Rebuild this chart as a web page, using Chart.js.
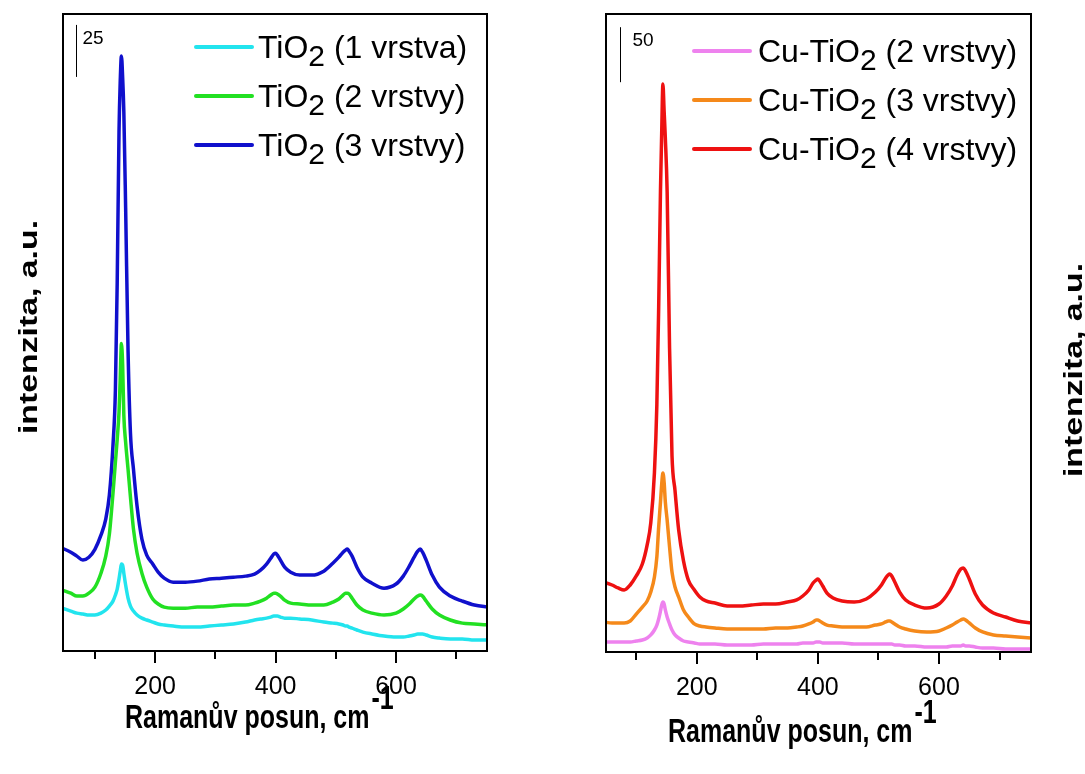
<!DOCTYPE html>
<html><head><meta charset="utf-8">
<script src="https://cdn.jsdelivr.net/npm/chart.js@4.4.0/dist/chart.umd.min.js"></script>
<style>
html,body{margin:0;padding:0;background:#fff;}
#wrap{position:relative;width:1085px;height:774px;overflow:hidden;background:#fff;}
canvas{position:absolute;left:0;top:0;}
</style></head><body>
<div id="wrap"><canvas id="c1" width="1085" height="774"></canvas><canvas id="c2" width="1085" height="774"></canvas></div>
<script>
// Raman shift grid (cm^-1)
const wavenumbers = [46,60,70,80,90,100,110,118,124,130,134,137,140,142,144,146,148,151,155,159,164,170,178,186,196,205,215,230,250,270,290,310,330,350,365,375,385,392,397,400,403,408,415,425,440,460,480,495,505,512,516,519,522,527,535,545,560,580,600,612,622,630,636,640,644,650,660,672,690,710,730,754];

// Left panel (a.u.)
const tio2_1 = [20.6,19.2,18.2,17.8,17.3,17.3,18.2,19.7,21.6,24.0,26.9,29.8,34.6,38.4,41.8,41.3,37.4,31.7,25.4,21.6,19.2,17.3,15.8,14.9,13.9,13.0,12.5,12.0,11.5,11.5,12.0,12.5,13.0,13.9,14.9,15.4,15.8,16.3,16.8,16.8,16.8,16.3,15.8,15.8,15.4,14.9,13.9,13.4,13.0,12.5,12.0,12.0,11.5,11.0,10.1,9.1,8.2,7.2,6.7,6.7,7.2,7.7,8.2,8.2,8.2,7.7,6.7,6.2,5.8,5.8,5.3,5.3];
const tio2_2 = [29.3,27.8,26.4,26.4,27.8,30.7,37.4,45.6,56.2,75.9,90.8,101.8,114.8,130.6,147.8,137.8,113.4,100.4,87.4,74.0,58.6,47.0,37.4,30.7,25.0,22.6,21.1,20.6,20.6,21.1,21.1,21.6,22.1,22.1,23.0,24.0,25.4,26.9,27.8,27.8,27.4,26.4,24.5,23.0,22.6,22.1,22.1,23.5,25.0,26.9,27.8,27.8,27.4,25.4,22.1,19.7,18.2,17.3,18.2,20.2,22.6,25.0,26.4,26.9,26.4,24.0,20.2,17.3,14.9,13.4,13.0,12.5];
const tio2_3 = [49.4,47.5,45.6,43.7,45.1,48.9,55.7,63.4,75.0,99.0,125.4,177.2,249.6,273.6,286.1,276.0,259.2,213.2,144.6,104.8,87.4,69.6,53.8,46.1,41.8,37.9,35.0,33.1,33.1,33.6,34.6,35.0,35.5,36.0,37.0,38.9,41.8,44.6,46.6,47.0,46.1,43.7,40.3,37.9,36.5,36.5,38.4,42.2,45.1,47.5,48.5,49.0,48.0,45.6,40.3,35.5,32.6,30.2,32.2,36.0,40.8,45.1,48.0,49.0,47.5,43.7,36.5,30.7,26.4,24.0,22.1,21.1];

// Right panel (a.u.)
const cu_2 = [9.1,9.1,9.1,9.1,9.1,10.0,10.9,12.7,15.5,20.0,24.5,30.0,37.3,42.7,45.5,43.6,38.2,31.8,25.5,20.0,15.5,12.7,10.0,9.1,8.2,7.3,7.3,7.3,6.4,6.4,6.4,7.3,7.3,7.3,7.3,8.2,8.2,8.2,9.1,9.1,9.1,8.2,8.2,8.2,8.2,7.3,7.3,7.3,7.3,7.3,7.3,7.3,7.3,6.4,6.4,5.5,5.5,4.5,4.5,4.5,5.5,5.5,5.5,6.4,5.5,5.5,4.5,3.6,3.6,2.7,2.7,2.7];
const cu_3 = [27.3,26.4,26.4,26.4,28.2,34.5,40.9,46.4,54.5,68.2,86.4,113.6,136.4,152.7,162.7,154.5,136.4,120.0,95.4,72.7,59.1,50.0,38.2,31.8,25.5,23.6,22.7,21.8,20.9,20.9,20.9,20.9,21.8,21.8,22.7,23.6,25.5,27.3,29.1,29.1,28.2,26.4,24.5,23.6,22.7,22.7,22.7,24.5,25.5,27.3,28.2,28.2,27.3,25.5,22.7,20.9,19.1,18.2,19.1,21.8,24.5,27.3,29.1,30.0,29.1,26.4,21.8,18.2,15.5,14.5,13.6,12.7];
const cu_4 = [63.6,60.9,58.2,56.4,60.9,69.1,80.0,97.4,117.6,163.1,224.9,312.9,420.0,471.8,516.3,491.8,467.2,418.3,275.9,178.7,146.7,111.1,82.8,65.4,56.4,50.0,46.4,44.5,41.8,41.8,42.7,43.6,43.6,45.5,47.3,50.9,56.4,62.7,65.4,66.4,64.5,60.0,53.6,49.1,46.4,45.5,48.2,54.5,60.9,67.3,70.0,70.9,69.1,63.6,54.5,47.3,42.7,40.0,43.6,50.9,60.0,70.0,75.4,76.4,73.6,66.4,52.7,42.7,35.5,31.8,28.2,26.4];

const leftLabels  = ["TiO2 (1 vrstva)", "TiO2 (2 vrstvy)", "TiO2 (3 vrstvy)"];
const rightLabels = ["Cu-TiO2 (2 vrstvy)", "Cu-TiO2 (3 vrstvy)", "Cu-TiO2 (4 vrstvy)"];
const leftColors  = ["#22e4ee", "#22e022", "#1010cc"];
const rightColors = ["#ee82ee", "#f5891a", "#ee1111"];
const xTickValues = [100, 200, 300, 400, 500, 600, 700];
const majorTicks = [200, 400, 600];
const xTitle = "Ramanův posun, cm";
const xTitleSup = "-1";
const yTitle = "intenzita, a.u.";
const leftBar = {x: 69, top: 301, len: 25};
const rightBar = {x: 73, top: 568, len: 50};

function pts(arr){ return wavenumbers.map((w,i)=>({x:w, y:arr[i]})); }

const FONT = '"Liberation Sans", Arial, sans-serif';

const decor = {
  id: 'decor',
  afterDraw(chart, args, o) {
    const {ctx, chartArea: a} = chart;
    const xs = chart.scales.x, ys = chart.scales.y;
    ctx.save();
    // frame
    ctx.strokeStyle = '#000'; ctx.lineWidth = 2;
    ctx.strokeRect(a.left, a.top, a.right - a.left, a.bottom - a.top);
    // longer marks for the labelled ticks
    ctx.lineWidth = 2;
    majorTicks.forEach(v => {
      const px = Math.round(xs.getPixelForValue(v));
      ctx.beginPath(); ctx.moveTo(px, a.bottom); ctx.lineTo(px, a.bottom + 12); ctx.stroke();
    });
    // scale bar
    const bx = Math.round(xs.getPixelForValue(o.bar.x)) + 0.5;
    ctx.lineWidth = 1;
    ctx.beginPath();
    ctx.moveTo(bx, ys.getPixelForValue(o.bar.top));
    ctx.lineTo(bx, ys.getPixelForValue(o.bar.top - o.bar.len));
    ctx.stroke();
    ctx.fillStyle = '#000';
    ctx.font = '19px ' + FONT;
    ctx.textBaseline = 'alphabetic'; ctx.textAlign = 'left';
    ctx.fillText(String(o.bar.len), bx + o.barTextDx, ys.getPixelForValue(o.bar.top) + 19);
    // legend
    chart.data.datasets.forEach((ds, i) => {
      const ly = o.lg.y0 + i * o.lg.dy;
      ctx.strokeStyle = ds.borderColor; ctx.lineWidth = 4; ctx.lineCap = 'round';
      ctx.beginPath(); ctx.moveTo(o.lg.x0, ly); ctx.lineTo(o.lg.x0 + 56, ly); ctx.stroke();
      const m = ds.label.match(/^(.*O)(2)(.*)$/);
      let tx = o.lg.tx;
      const base = ly + 11;
      ctx.fillStyle = '#000';
      ctx.font = '32px ' + FONT;
      ctx.fillText(m[1], tx, base); tx += ctx.measureText(m[1]).width;
      ctx.font = '30px ' + FONT;
      ctx.fillText(m[2], tx, base + 8); tx += ctx.measureText(m[2]).width;
      ctx.font = '32px ' + FONT;
      ctx.fillText(m[3], tx, base);
    });
    // x title
    ctx.fillStyle = '#000';
    ctx.font = 'bold 25px ' + FONT;
    ctx.save();
    ctx.translate(o.xt.x, o.xt.y);
    ctx.scale(1, 1.3);
    ctx.fillText(xTitle, 0, 0);
    const w = ctx.measureText(xTitle).width;
    ctx.fillText(xTitleSup, w + 2, -15);
    ctx.restore();
    // y title
    ctx.save();
    ctx.translate(o.yt.x, o.yt.y);
    ctx.rotate(-Math.PI / 2);
    ctx.scale(1.3, 1);
    ctx.font = 'bold 26px ' + FONT;
    ctx.textAlign = 'center'; ctx.textBaseline = 'middle';
    ctx.fillText(yTitle, 0, 0);
    ctx.restore();
    ctx.restore();
  }
};

function makeChart(id, labels, colors, series, xmin, xmax, ymax, pad, axisH, decorOpts) {
  return new Chart(document.getElementById(id), {
    type: 'line',
    data: {
      datasets: series.map((s, i) => ({
        label: labels[i], data: pts(s), borderColor: colors[i], backgroundColor: colors[i],
        borderWidth: 3.5, pointRadius: 0, cubicInterpolationMode: 'monotone', fill: false
      }))
    },
    options: {
      responsive: false, animation: false, devicePixelRatio: 1,
      layout: {padding: pad},
      plugins: {legend: {display: false}, tooltip: {enabled: false}, decor: decorOpts},
      scales: {
        x: {
          type: 'linear', min: xmin, max: xmax,
          afterBuildTicks(scale) { scale.ticks = xTickValues.map(v => ({value: v})); },
          afterFit(scale) { scale.height = axisH; },
          border: {display: false},
          grid: {drawOnChartArea: false, drawTicks: true, tickLength: 8, color: '#000', lineWidth: 2},
          ticks: {
            color: '#000', padding: 13, maxRotation: 0, minRotation: 0, autoSkip: false,
            font: {family: '"Liberation Sans", Arial, sans-serif', size: 25},
            callback: v => majorTicks.includes(v) ? String(v) : ''
          }
        },
        y: {display: false, min: 0, max: ymax}
      }
    },
    plugins: [decor]
  });
}

makeChart('c1', leftLabels, leftColors, [tio2_1, tio2_2, tio2_3], 47, 751, 306.25,
  {left: 63, right: 598, top: 14, bottom: 0}, 123,
  {bar: leftBar, barTextDx: 6, lg: {x0: 196, y0: 47, dy: 49, tx: 258},
   xt: {x: 125, y: 728}, yt: {x: 30, y: 327}});
makeChart('c2', rightLabels, rightColors, [cu_2, cu_3, cu_4], 50, 752, 580,
  {left: 606, right: 54, top: 14, bottom: 0}, 122,
  {bar: rightBar, barTextDx: 12, lg: {x0: 694, y0: 51, dy: 49, tx: 758},
   xt: {x: 668, y: 742}, yt: {x: 1075, y: 370}});
</script>
</body></html>
